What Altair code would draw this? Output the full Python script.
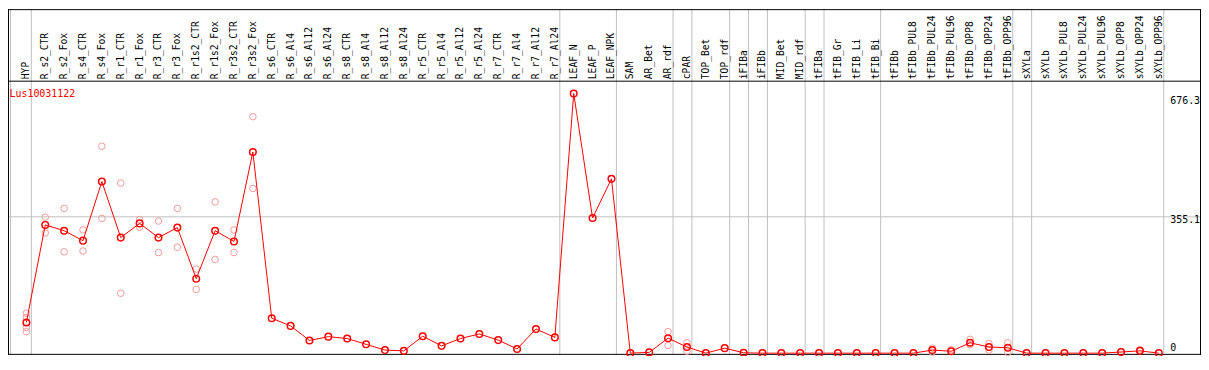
import altair as alt
import pandas as pd

# ---------------- data ----------------
title_text = "Lus10031122"

categories = [
    "HYP", "R_s2_CTR", "R_s2_Fox", "R_s4_CTR", "R_s4_Fox", "R_r1_CTR", "R_r1_Fox",
    "R_r3_CTR", "R_r3_Fox", "R_r1s2_CTR", "R_r1s2_Fox", "R_r3s2_CTR", "R_r3s2_Fox",
    "R_s6_CTR", "R_s6_Al4", "R_s6_Al12", "R_s6_Al24", "R_s8_CTR", "R_s8_Al4",
    "R_s8_Al12", "R_s8_Al24", "R_r5_CTR", "R_r5_Al4", "R_r5_Al12", "R_r5_Al24",
    "R_r7_CTR", "R_r7_Al4", "R_r7_Al12", "R_r7_Al24", "LEAF_N", "LEAF_P", "LEAF_NPK",
    "SAM", "AR_Bet", "AR_rdf", "cPAR", "TOP_Bet", "TOP_rdf", "iFIBa", "iFIBb",
    "MID_Bet", "MID_rdf", "tFIBa", "tFIB_Gr", "tFIB_Li", "tFIB_Bi", "tFIBb",
    "tFIBb_PUL8", "tFIBb_PUL24", "tFIBb_PUL96", "tFIBb_OPP8", "tFIBb_OPP24",
    "tFIBb_OPP96", "sXYLa", "sXYLb", "sXYLb_PUL8", "sXYLb_PUL24", "sXYLb_PUL96",
    "sXYLb_OPP8", "sXYLb_OPP24", "sXYLb_OPP96",
]

means = [
    80, 334, 319, 293, 447, 301, 338, 301, 327, 194, 319, 291, 524,
    91, 71, 33, 43, 38, 23, 8, 6, 44, 19, 38, 50, 34, 11, 63, 41,
    676.3, 352, 454,
    0, 2, 39, 16, 0, 13, 1, 0, 0, 0, 0, 0, 0, 0, 0,
    0, 8, 5, 27, 16, 14,
    0, 0, 0, 0, 0, 3, 6, 0,
]

replicates = [
    [104, 93, 67, 56], [354, 313], [377, 264], [321, 266], [539, 351],
    [443, 156], [348, 328], [344, 262], [377, 276], [219, 166], [394, 244],
    [321, 262], [616, 429],
    [], [], [], [], [], [], [], [], [], [], [], [], [], [], [], [],
    [], [], [],
    [], [], [56, 20], [27, 5], [], [], [], [], [], [], [], [], [], [], [],
    [], [13, 3], [9], [36, 22], [25, 8], [27, 2],
    [], [], [], [], [], [], [9], [],
]

# categories after which a grey separator line is drawn
group_ends = ["HYP", "R_r7_Al24", "LEAF_NPK", "AR_rdf", "cPAR", "TOP_rdf", "iFIBa",
              "iFIBb", "MID_rdf", "tFIBa", "tFIB_Bi", "tFIBb_OPP96", "sXYLa",
              "sXYLb_OPP96"]

tick_values = [676.3, 355.1, 0]
tick_labels = ["676.3", "355.1", "0"]
grid_value = 355.1

# ---------------- tables ----------------
df = pd.DataFrame({"idx": range(len(categories)), "cat": categories, "mean": means})
rep_rows = [{"idx": i, "cat": c, "value": v}
            for i, (c, vals) in enumerate(zip(categories, replicates)) for v in vals]
rep_df = pd.DataFrame(rep_rows)
sep_df = pd.DataFrame({"pos": [-16 / 19] + [categories.index(c) + 5 / 19 for c in group_ends]})

# ---------------- layout ----------------
W, H = 1201, 348
HEADER = 72.5
FONT = "DejaVu Sans Mono"
XS = alt.Scale(domain=[0, len(categories) - 1], range=[18.5, 1158.5], nice=False, zero=False)
YS = alt.Scale(domain=[0, 676.3], range=[346.3, 84.9], nice=False, zero=False)
one = alt.Data(values=[{"a": 1}])

separators = alt.Chart(sep_df).mark_rule(color="#c0c0c0", strokeWidth=1).encode(
    x=alt.X("pos:Q", scale=XS, axis=None),
    y=alt.value(0), y2=alt.value(H),
)

grid = alt.Chart(one).mark_rule(color="#c0c0c0", strokeWidth=1).encode(
    y=alt.datum(grid_value, scale=YS, axis=None),
    x=alt.value(0), x2=alt.value(W),
)

frame_h = [
    alt.Chart(one).mark_rule(color="black", strokeWidth=1).encode(
        y=alt.value(yv), x=alt.value(0), x2=alt.value(W))
    for yv in [0.5, HEADER, H - 0.5]
]
frame_v = [
    alt.Chart(one).mark_rule(color="black", strokeWidth=1).encode(
        x=alt.value(xv), y=alt.value(0), y2=alt.value(H))
    for xv in [0.5, W - 0.5]
]

header = alt.Chart(df).mark_text(
    angle=270, align="left", baseline="middle", font=FONT, fontSize=9.7, color="black"
).encode(
    x=alt.X("idx:Q", scale=XS, axis=None),
    y=alt.value(70.5),
    text="cat:N",
)

reps = alt.Chart(rep_df).mark_point(
    shape="circle", filled=False, size=44, strokeWidth=1, color="#f29a9a", opacity=1
).encode(
    x=alt.X("idx:Q", scale=XS, axis=None),
    y=alt.Y("value:Q", scale=YS, axis=None),
)

line = alt.Chart(df).mark_line(color="#ff0000", strokeWidth=1).encode(
    x=alt.X("idx:Q", scale=XS, axis=None),
    y=alt.Y("mean:Q", scale=YS, axis=None),
)

pts = alt.Chart(df).mark_point(
    shape="circle", filled=False, size=44, strokeWidth=1.5, color="#ff0000", opacity=1
).encode(
    x=alt.X("idx:Q", scale=XS, axis=None),
    y=alt.Y("mean:Q", scale=YS, axis=None),
)

title = alt.Chart(one).mark_text(
    text=title_text, align="left", baseline="top", font=FONT, fontSize=10, color="#ff0000"
).encode(x=alt.value(1.5), y=alt.value(80))

tick_style = [("top", 2.5), ("top", -2), ("alphabetic", -2.5)]
ticks = [
    alt.Chart(one).mark_text(
        text=lab, align="left", baseline=bl, dy=dy, font=FONT, fontSize=10, color="black"
    ).encode(x=alt.value(1170), y=alt.datum(val, scale=YS, axis=None))
    for lab, val, (bl, dy) in zip(tick_labels, tick_values, tick_style)
]

chart = alt.layer(
    separators, grid, *frame_h, *frame_v, header, reps, line, pts, title, *ticks
).properties(
    width=W, height=H, padding=0, autosize=alt.AutoSizeParams(type="none"),
    background="white",
).configure_view(stroke=None)

chart.save("out.html", embed_options={"renderer": "svg", "actions": False})
